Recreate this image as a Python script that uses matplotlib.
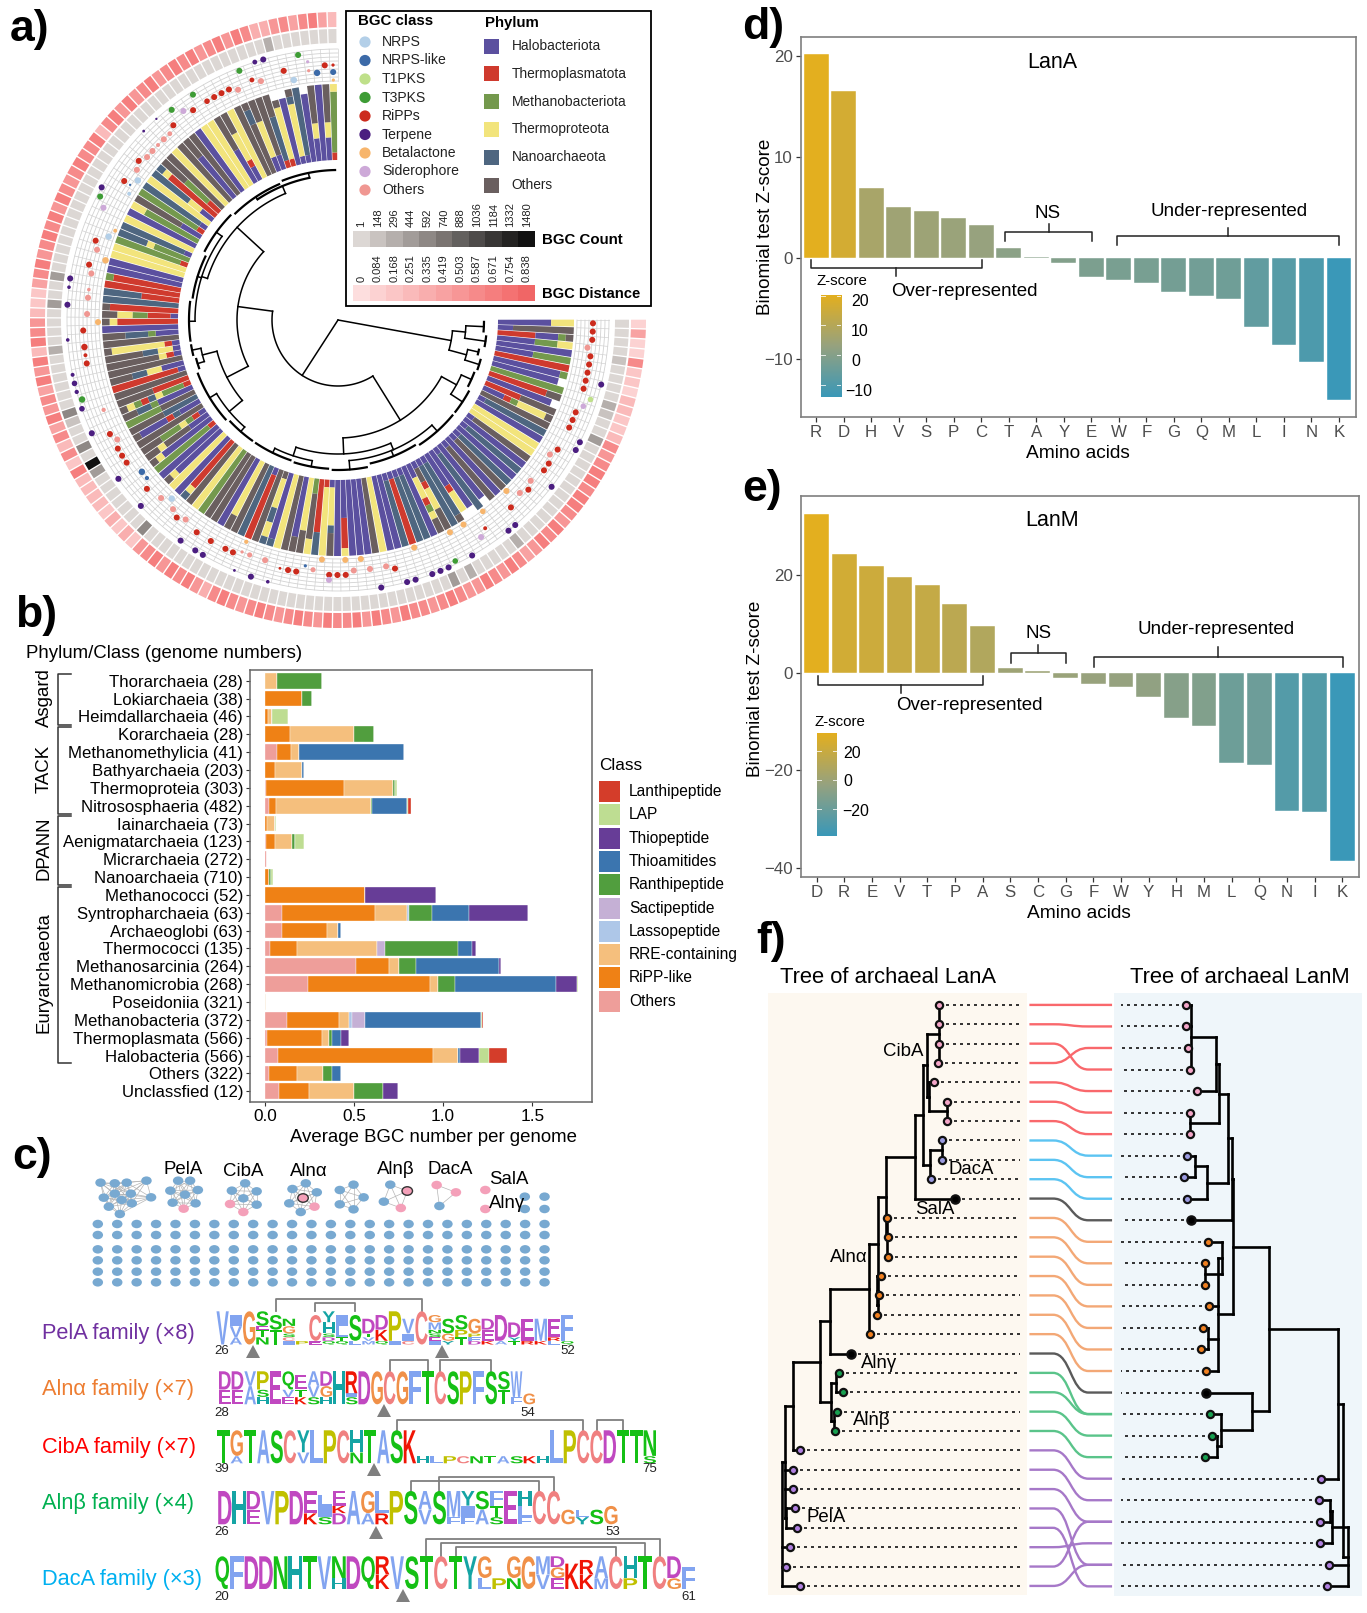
import itertools
import numpy as np
import matplotlib
matplotlib.use('Agg')
import matplotlib.pyplot as plt
from matplotlib.colors import LinearSegmentedColormap
from matplotlib.patches import Circle, Ellipse, Polygon, Rectangle, PathPatch
from matplotlib.path import Path
from matplotlib.patheffects import AbstractPathEffect
from matplotlib.transforms import Affine2D

plt.rcParams['font.family'] = ['Liberation Sans', 'DejaVu Sans']

# ---------- panel a data ----------
# one string per genome, inner to outer, one char = a tenth of the bar length
bar_stacks = [
    "HHHHHHHYYY", "HHOOOOOOOO", "TTTTTHHHMO", "HHHHHMMMYY", "HHHHHHHHHH", "HHHHHMMMMM", "TTTTTTTTTT", "HHHHHHHHHM", "HHHHHHHHH", "MMMMMMMMMM",
    "TTTTTTTTOO", "HHHHHHHHH", "TTTTTOOOOO", "HHHTMYYYYO", "OOOOOOOOOO", "HNNNNNNNNN", "HHHHHHHHHH", "YYYYYYYYYY", "YYYYYYYYYY", "HOOOOOOOOO",
    "HHHHHHHHHH", "HNNNNNNNNN", "HHHHHHHHHH", "HNNNNNNNNN", "HOOOOOOOOO", "HHHHHHHHHH", "HOOOOOOOOO", "HHHHHHHHH", "HNNNNNNNNN", "HHHHHHHHH",
    "HHHHHTYYY", "HNNNNNNNNO", "HNNNNNNNNN", "HOOTYYYOOO", "HHYYYTMYOO", "HHHHHHHHHH", "HNNNNNNNNN", "HNNNNNNNNN", "HTTTTTTTTT", "HNNNNNNNNN",
    "HHHHHHHHHH", "HHHHHHHHHH", "YYYYYYYYYY", "OOOOOOOOOO", "HHHHHHHHHH", "HHHHHHHHHH", "HHHHHHHHHH", "HHHHHTTTTY", "HHHHHHHHHH", "HYYYYYNOOO",
    "TYYYYYYYYY", "TTTTTTTNNN", "MMOOOOOOYY", "YYYYYYYOOO", "HHHHHHHHOO", "OOOOOOOOOO", "YYYYYYYYYY", "HHHHHHHHHN", "OYYYYNNYYN", "OOOOOOOOOO",
    "HTTTTTTTTT", "NNNNNNNNNN", "OOOOOOOOOO", "YYYYYYYYOO", "HHHHHHHHHH", "OOOOOOOOOO", "OOOOOOOOOO", "MMMMMMMMMM", "YYYYYYYYYY", "OOOOOOOOOO",
    "TTTTTTTTYN", "HHHHHHHHHH", "YYYYYYYYYY", "HHHHHHHHYO", "HHHHHHHHHH", "TMMMMMMMMM", "HHHHHHHHYO", "HHHOOOOYOO", "HTMYMMMOOO", "OOOOOOOOOO",
    "HHHNTHHHHO", "NNNNNOOOOO", "OOOOOMMMMM", "HHHHHMNNOO", "TMMMYNTMYO", "TTTTTOOOOO", "OOOOOOOOOO", "HTTTTTTTTT", "HHHYYNNOOO", "OOOOOOOOOO",
    "HTYOOOOOOO", "HYYNNOOOOO", "HTYYYYYYYO", "OOOOOOOOOO", "HHHMNNNOOO", "HHHHHHHHHH", "TTTTTTTTYO", "HTTTMMYYOO", "TTTTTTTTTO", "NNNNNNNNNN",
    "TTTTTNNNNN", "TTTTTTTTTT", "TTTTTTTTTM", "HHHHHHHHHH", "HHHHHHHHHH", "YYYYYYYYYY", "YYYYYYYYYY", "TMMMMMMMMM", "MMMMMYNNNN", "HNNNNNNNNN",
    "YYYYYYYYYY", "HHHHHHHHHH", "MMMMMMMMYY", "HHHOOOOOOO", "TMMMMMMMMM", "HNNNNNNNNN", "YYYYYYYYYY", "HHYYNNNNNN", "TTTTTTTTYN", "TTMMMMOOOO",
    "OOOOOOOOOO", "YYYYYYYYYY", "OOOOOOOOOO", "HHHHHHHOOO", "OOOOOOOOOO", "HHHHHHHHHH", "YYYYYYYYYY", "YYYYYYYYYY", "HHHHHOOOOO", "HHTYYYYOOO",
    "YYYYYYYYYY", "OOOOOOOOOO", "OOOOOOONNO", "HHYYYYYOOO", "HHOOOOOOOO", "TNNNNNNOOO", "TYYYYYYYO", "HHHHHHHHH", "HYYYYYYYNO", "HNNNNNNNNN",
    "HHHHHHHHH", "HHHYYOOOOO", "HHHHHHHHHH", "HHHYYOOOOO", "TMMMMMMMMY",
]
phylum_names = ['Halobacteriota', 'Thermoplasmatota', 'Methanobacteriota', 'Thermoproteota', 'Nanoarchaeota', 'Others']
phylum_keys = 'HTMYNO'
phylum_colors = ['#5B509F', '#CF3A2E', '#74994D', '#F2E47C', '#4E6680', '#6A5F5F']

count_labels = ['1', '148', '296', '444', '592', '740', '888', '1036', '1184', '1332', '1480']
count_colors = ['#DCD7D4', '#C9C3C0', '#B5AFAC', '#A29C99', '#8E8885', '#7A7471', '#63605E', '#4E4B4A', '#383635', '#242322', '#111111']
dist_labels = ['0', '0.084', '0.168', '0.251', '0.335', '0.419', '0.503', '0.587', '0.671', '0.754', '0.838']
dist_colors = ['#FDDEDE', '#FCD2D2', '#FBC6C6', '#FABABA', '#F9AEAE', '#F8A2A2', '#F79696', '#F68A8A', '#F57E7E', '#F47272', '#F06666']
count_dark = {4: 1, 9: 2, 10: 1, 13: 3, 27: 2, 33: 2, 35: 3, 71: 4, 79: 3, 80: 10, 82: 4, 85: 1, 86: 4, 93: 2, 98: 3, 101: 3, 137: 2}
dist_levels = ("1511722133" "2237678878" "8768786578" "6786678767" "78678687"
               "7867876787" "6787468786" "8762424233" "3382737586" "75868387"
               "6322578678" "7868767877" "8378686786" "7878678687" "446757853")

class_names = ['NRPS', 'NRPS-like', 'T1PKS', 'T3PKS', 'RiPPs', 'Terpene', 'Betalactone', 'Siderophore', 'Others']
class_colors = ['#B3CFE8', '#3C6AA8', '#BFE08A', '#3E9C35', '#CC2B1D', '#4B1E80', '#F7B56C', '#CDA9D8', '#F09792']
# (sector, dot area)
nrps_dots = [(71, 16), (115, 16), (113, 6), (107, 16), (139, 16)]
nrpslike_dots = [(76, 16), (75, 7), (52, 4), (114, 2), (142, 16), (144, 14)]
t1pks_dots = [(9, 12)]
t3pks_dots = [(34, 12), (87, 16), (111, 14), (124, 14), (127, 14), (133, 14), (140, 14)]
ripps_dots = [(0, 14), (1, 14), (2, 14), (4, 14), (5, 14), (6, 14), (7, 14), (8, 14), (11, 14), (12, 14), (13, 14), (16, 14),
              (18, 14), (19, 14), (22, 14), (25, 14), (29, 6), (41, 14), (47, 14), (48, 14), (49, 14), (53, 14), (54, 14), (55, 3),
              (61, 14), (62, 14), (64, 14), (66, 14), (69, 14), (74, 14), (78, 14), (79, 14), (80, 14), (82, 14), (91, 14), (92, 6),
              (93, 16), (95, 14), (103, 14), (106, 14), (114, 14), (117, 14), (123, 14), (126, 14), (128, 12), (129, 14), (130, 14),
              (131, 14), (134, 9), (138, 14), (143, 14), (144, 4)]
terpene_dots = [(7, 14), (14, 14), (15, 14), (20, 14), (26, 14), (27, 14), (32, 14), (35, 14), (36, 14), (37, 14), (39, 14),
                (40, 14), (43, 14), (56, 5), (58, 14), (60, 3), (64, 14), (65, 14), (67, 14), (73, 14), (77, 14), (83, 14), (86, 12),
                (88, 7), (89, 12), (90, 6), (94, 5), (98, 14), (100, 5), (101, 14), (112, 14), (120, 3), (122, 2), (135, 9), (136, 14)]
beta_dots = [(24, 14), (28, 12), (31, 14), (33, 14), (38, 14), (45, 14), (47, 14), (50, 14), (60, 7), (96, 14), (104, 16), (108, 6), (144, 4)]
sidero_dots = [(10, 12), (30, 14), (49, 14), (110, 14), (125, 14), (141, 4)]
others_dots = [(3, 14), (17, 14), (21, 14), (23, 14), (42, 14), (44, 14), (46, 14), (51, 10), (57, 14), (59, 10), (60, 4), (68, 14), (70, 14),
               (72, 14), (81, 14), (85, 7), (97, 14), (99, 14), (100, 5), (102, 14), (105, 14), (116, 14), (118, 14), (119, 14), (120, 6),
               (121, 14), (122, 9), (132, 14), (135, 14), (141, 4)]
class_rows = {'Betalactone': 240, 'NRPS': 244, 'NRPS-like': 248, 'Others': 251, 'RiPPs': 255, 'Siderophore': 260, 'T1PKS': 264, 'T3PKS': 268, 'Terpene': 271}


def comb(r, lo, hi):
    return (r, list(range(lo, hi + 1)))


# (radius, children); an int child is a tip
a_tree = (0, [
    (115, [(128, [comb(146, 0, 2), comb(149, 3, 5)]), (133, [comb(144, 6, 7), comb(148, 8, 10)])]),
    (66, [
        (118, [(135, [comb(146, 11, 14), comb(149, 15, 20)]),
               (134, [(141, [comb(149, 21, 30), comb(147, 31, 41), comb(150, 42, 49)]), (143, [comb(149, 50, 57), comb(148, 58, 66)])])]),
        (101, [(125, [(142, [comb(148, 67, 73), comb(150, 74, 85)]), (140, [comb(147, 86, 88), comb(149, 89, 91)])]),
               (137, [(143, [comb(149, 92, 100), comb(147, 101, 110), comb(150, 111, 120)]), (145, [comb(148, 121, 132), comb(150, 133, 144)])])]),
    ]),
])

# ---------- panel b data ----------
lineages = ['Thorarchaeia (28)', 'Lokiarchaeia (38)', 'Heimdallarchaeia (46)', 'Korarchaeia (28)', 'Methanomethylicia (41)',
            'Bathyarchaeia (203)', 'Thermoproteia (303)', 'Nitrososphaeria (482)', 'Iainarchaeia (73)', 'Aenigmatarchaeia (123)',
            'Micrarchaeia (272)', 'Nanoarchaeia (710)', 'Methanococci (52)', 'Syntropharchaeia (63)', 'Archaeoglobi (63)',
            'Thermococci (135)', 'Methanosarcinia (264)', 'Methanomicrobia (268)', 'Poseidoniia (321)', 'Methanobacteria (372)',
            'Thermoplasmata (566)', 'Halobacteria (566)', 'Others (322)', 'Unclassfied (12)']
ripp_classes = ['Others', 'RiPP-like', 'RRE-containing', 'Lassopeptide', 'Sactipeptide', 'Ranthipeptide', 'Thioamitides', 'Thiopeptide', 'LAP', 'Lanthipeptide']
ripp_colors = ['#EE9E9A', '#EF8115', '#F5BF7D', '#AEC7E8', '#C5B0D5', '#519E3E', '#3B75AF', '#673D97', '#BEDD92', '#D43D2A']
others_b = [0, 0, 0, 0, .07, 0, .005, .025, 0, .005, .01, 0, 0, .095, .095, .03, .51, .245, 0, .125, .012, .075, .025, .08]
ripplike = [0, .21, .02, .14, .075, .055, .44, .04, .015, .055, .005, .025, .56, .525, .255, .15, .185, .68, 0, .29, .308, .87, .155, .17]
rre = [.07, 0, .02, .36, .045, .155, .275, .53, .045, .095, 0, 0, 0, .175, .06, .45, .055, .045, .005, .055, .04, .14, .145, .25]
lasso = [0, 0, 0, 0, 0, 0, 0, 0, 0, 0, 0, 0, 0, .015, 0, 0, 0, 0, 0, .02, 0, 0, 0, 0]
sacti = [0, 0, 0, 0, 0, 0, 0, 0, 0, 0, 0, 0, 0, 0, 0, .045, 0, 0, 0, .07, 0, 0, 0, 0]
ranthi = [.25, .055, 0, .11, 0, 0, .01, .005, 0, .015, 0, .01, 0, .125, 0, .41, .1, .095, 0, 0, .015, 0, .05, .165]
thioam = [0, 0, 0, 0, .59, .01, 0, .2, 0, 0, 0, 0, 0, .21, .02, .075, .465, .57, 0, .65, .055, .01, .05, 0]
thiopep = [0, 0, 0, 0, 0, 0, 0, 0, 0, 0, 0, 0, .4, .33, 0, .025, .01, .115, 0, .005, .04, .105, .005, .08]
lap = [0, 0, .09, 0, 0, 0, .01, .005, .005, .05, 0, .01, 0, 0, 0, 0, 0, .005, 0, .005, 0, .055, 0, 0]
lanthi = [0, 0, 0, 0, 0, 0, 0, .015, 0, 0, 0, 0, 0, 0, 0, 0, 0, 0, 0, .005, 0, .105, 0, 0]
ripp_values = [others_b, ripplike, rre, lasso, sacti, ranthi, thioam, thiopep, lap, lanthi]
ripp_legend = ['Lanthipeptide', 'LAP', 'Thiopeptide', 'Thioamitides', 'Ranthipeptide', 'Sactipeptide', 'Lassopeptide', 'RRE-containing', 'RiPP-like', 'Others']

# ---------- panels d, e data ----------
lana_aa = list('RDHVSPCTAYEWFGQMLINK')
lana_z = [20.2, 16.6, 7.0, 5.1, 4.7, 4.0, 3.3, 1.05, 0.15, -0.5, -1.8, -2.15, -2.4, -3.3, -3.7, -4.0, -6.75, -8.6, -10.3, -14.0]
lanm_aa = list('DREVTPASCGFWYHMLQNIK')
lanm_z = [32.7, 24.4, 21.9, 19.7, 18.1, 14.2, 9.7, 0.9, 0.35, -1.1, -2.2, -2.9, -4.9, -9.3, -11.0, -18.6, -19.0, -28.3, -28.6, -38.6]

# ---------- panel c data ----------
# letter + height in ninths, stack listed top to bottom
logo_pela = ["V9", "I3V3A2", "G9", "S4E1T2N2", "S4T4", "N2G2S1C1I1", "P1", "C7E1", "Y3H3S1D1Q1", "I3L3T1Q1", "S7L1", "D4T1V1M1", "D4K3Q1", "P8I1",
             "V4I2C1", "C9", "G2M2N1S1E1I1", "S4G2Y1", "S4P2T2", "G4P1F1D1", "D3E3K1", "D7A1", "D4Y1T1", "E6R1", "M6K1", "E5R1L1", "F7Q1"]
logo_alna = ["D5E4", "D5E4", "V4A5", "P5S2H2", "E9", "Q5V2E2", "E4T2K2", "A4V3S2", "D4G3H2", "H9", "R6I1S2", "D9", "G9", "C9", "G9", "F9", "T9",
             "C9", "S9", "P9", "F9", "S9", "S5T4", "W7F2", "G3"]
logo_ciba = ["T9", "G7A2", "T9", "A9", "S9", "C9", "Y6V3", "L9", "P9", "C9", "H6N3", "T9", "A9", "S9", "K9", "H2", "L2", "P2", "C2", "N2", "T2",
             "A2", "S2", "K2", "H2", "L9", "P9", "C9", "C9", "D9", "T9", "T9", "N7S2"]
logo_alnb = ["D9", "H9", "D5E4", "V9", "P9", "D9", "E6K3", "L3I3S2", "E4K2D3", "A9", "G6A3", "L6R3", "P9", "S9", "A5V4", "S9", "M7F2", "Y4I3F2",
             "S5A4", "F4T3S2", "E9", "H4L3F2", "C9", "C9", "G4", "L2Y2", "S4", "G5"]
logo_daca = ["Q9", "F9", "D9", "D9", "N9", "H9", "T9", "V9", "N6H3", "D9", "Q9", "R5K4", "V9", "S9", "T9", "C9", "T9", "Y9", "G6L3", "P3", "G6N3",
             "G9", "M5V4", "D3G3E3", "K7", "R4K4", "A6M3", "C9", "H6P3", "T9", "C9", "D6G3", "F6"]
family_names = ['PelA family (×8)', 'Alnα family (×7)', 'CibA family (×7)', 'Alnβ family (×4)', 'DacA family (×3)']
family_colors = ['#7030A0', '#ED7D31', '#FF0000', '#00B050', '#00B0F0']
residue_colors = {}
for aa_set, col in [('VIALMFW', '#82A4F0'), ('YH', '#15A4A4'), ('G', '#F09048'), ('P', '#C0C000'), ('C', '#F08080'),
                    ('STNQ', '#15C015'), ('DE', '#C048C0'), ('KR', '#F01505')]:
    for aa in aa_set:
        residue_colors[aa] = col

# ---------- panel f data ----------
lana_groups = ['r'] * 7 + ['b'] * 3 + ['k'] + ['o'] * 7 + ['k'] + ['g'] * 4 + ['p'] * 8
lanm_groups = ['r'] * 7 + ['b'] * 3 + ['k'] + ['o'] * 7 + ['k'] + ['g'] * 3 + ['p'] * 6
lana_to_lanm = [0, 1, 3, 2, 4, 5, 6, 7, 8, 9, 10, 11, 12, 13, 14, 15, 16, 17, 18, 19, 19, 20, 21, 22, 23, 24, 26, 27, 25, 24, 26]
lana_tips = [480, 480, 480, 478, 468, 500, 500, 488, 488, 460, 520, 347, 351, 350, 333, 327, 322, 305, 256, 225, 236, 220, 217, 127, 110, 110, 115, 120, 102, 92, 127]
lanm_tips = [1108, 1108, 1113, 1117, 1135, 1118, 1118, 1110, 1102, 1111, 1120, 1163, 1157, 1157, 1167, 1152, 1145, 1159, 1158, 1168, 1173, 1157, 1450, 1446, 1448, 1449, 1470, 1467]
ribbon_colors = {'r': '#F9686C', 'b': '#5CC4F2', 'k': '#5A5A5A', 'o': '#F3A876', 'g': '#5AC48A', 'p': '#A678C8'}
tip_colors = {'r': '#F4A6C8', 'b': '#9B9BE0', 'k': '#000000', 'o': '#F08020', 'g': '#18A050', 'p': '#B080E0'}

lana_cib = (440, [(450, [(480, [0, 1, 2, 3]), (455, [4, (500, [5, 6])])]), (458, [(487, [7, 8]), 9])])
lana_top = (420, [lana_cib, 10])
lana_aln = (303, [(325, [(345, [lana_top, (347, [11, 12, 13])]), (322, [14, (325, [15, 16])])]), 17])
lana_tree = (82, [(90, [(110, [(178, [(204, [lana_aln, 18]), (205, [(218, [19, 20]), (213, [21, 22])])]), 23]), 24, 25, (92, [26, 27])]), 28, 29, 30])

lanm_red = (1192, [(1185, [(1120, [0, 1, 2, 3]), 4]), (1118, [5, 6])])
lanm_up = (1225, [(1215, [lanm_red, (1160, [(1132, [7, 8]), 9])]), 10])
lanm_org = (1190, [(1200, [11, (1157, [12, 13])]), 14, (1165, [15, 16]), 17])
lanm_mid = (1318, [(1228, [lanm_up, lanm_org]), (1275, [18, (1197, [19, (1187, [20, 21])])])])
lanm_tree = (1507, [(1493, [lanm_mid, 22]), (1519, [(1478, [(1473, [23, 24]), 25]), 26, 27])])

# ---------- figure ----------
fig = plt.figure(figsize=(13.67, 16.13), dpi=100)
W, H = 1367.0, 1613.0


def px_axes(x0, y0, x1, y1, **kw):
    return fig.add_axes([x0 / W, 1 - y1 / H, (x1 - x0) / W, (y1 - y0) / H], **kw)


ov = fig.add_axes([0, 0, 1, 1], zorder=5)
ov.set_xlim(0, W)
ov.set_ylim(H, 0)
ov.axis('off')
ov.patch.set_visible(False)

for s, x, y in [('a)', 10, 29), ('b)', 15, 615), ('c)', 12, 1158), ('d)', 742, 27), ('e)', 742, 490), ('f)', 756, 941)]:
    ov.text(x, y, s, fontsize=32, fontweight='bold', ha='left', va='center')

# ---------- a: circular plot ----------
CX, CY, RMAX = 338.0, 320.0, 310.0
pol = px_axes(CX - RMAX, CY - RMAX, CX + RMAX, CY + RMAX, projection='polar', zorder=1)
pol.set_theta_zero_location('E')
pol.set_theta_direction(-1)
n_sec = len(bar_stacks)
step = np.deg2rad(270.0 / n_sec)
sec_theta = (np.arange(n_sec) + 0.4) * step

R_IN, UNIT = 160.0, 7.6
for i, stack in enumerate(bar_stacks):
    pos = 0
    for key, run in itertools.groupby(stack):
        k = len(list(run))
        pol.bar(sec_theta[i], k * UNIT, width=step * 0.9, bottom=R_IN + pos * UNIT, color=phylum_colors[phylum_keys.index(key)], linewidth=0, zorder=3)
        pos += k

arc = np.linspace(0, n_sec * step, 400)
for r in np.arange(239, 273, 4):
    pol.plot(arc, np.full_like(arc, r), color='#D2D2D2', lw=0.6, zorder=1)
for edge in np.arange(n_sec + 1) * step:
    pol.plot([edge, edge], [239, 271], color='#D2D2D2', lw=0.5, zorder=1)

for name, dots in zip(class_names, [nrps_dots, nrpslike_dots, t1pks_dots, t3pks_dots, ripps_dots, terpene_dots, beta_dots, sidero_dots, others_dots]):
    idx = [d[0] for d in dots]
    pol.scatter(sec_theta[idx], np.full(len(idx), class_rows[name]), s=[d[1] * 1.35 for d in dots],
                color=class_colors[class_names.index(name)], linewidths=0, zorder=4)

count_level = [count_dark.get(i, 0) for i in range(n_sec)]
pol.bar(sec_theta, 14, width=step * 0.86, bottom=277, color=[count_colors[v] for v in count_level], linewidth=0)
pol.bar(sec_theta, 15, width=step * 0.86, bottom=293, color=[dist_colors[int(c)] for c in dist_levels], linewidth=0)


def draw_radial_tree(node):
    r, kids = node
    angs = []
    for kid in kids:
        if isinstance(kid, int):
            angs.append(sec_theta[kid])
            continue
        ang = draw_radial_tree(kid)
        pol.plot([ang, ang], [r, kid[0]], color='black', lw=1.1, zorder=2)
        angs.append(ang)
    aa = np.linspace(min(angs), max(angs), 60)
    # the tip combs read as one heavy broken arc
    pol.plot(aa, np.full_like(aa, r), color='black', lw=1.1 if r < 144 else 1.6, zorder=2)
    return (angs[0] + angs[-1]) / 2


draw_radial_tree(a_tree)
pol.set_rlim(0, RMAX)
pol.set_axis_off()
pol.patch.set_visible(False)

# legend box of panel a
ov.add_patch(Rectangle((346, 11), 304.5, 295, fc='white', ec='black', lw=1.3, zorder=1))
ov.text(358, 21, 'BGC class', fontsize=10.8, fontweight='bold', va='center', zorder=2)
ov.text(485, 23, 'Phylum', fontsize=10.8, fontweight='bold', va='center', zorder=2)
for i, (name, col) in enumerate(zip(class_names, class_colors)):
    yy = 42 + i * 18.5
    ov.add_patch(Circle((365, yy), 5.6, fc=col, ec='none', zorder=2))
    ov.text(382, yy, name, fontsize=10.1, va='center', color='#222222', zorder=2)
for i, (name, col) in enumerate(zip(phylum_names, phylum_colors)):
    yy = 46 + i * 27.8
    ov.add_patch(Rectangle((483.5, yy - 7.5), 15, 15, fc=col, ec='none', zorder=2))
    ov.text(511.7, yy, name, fontsize=9.9, va='center', color='#222222', zorder=2)
cw = 182.0 / 11
for i in range(11):
    xx = 353 + i * cw
    ov.add_patch(Rectangle((xx, 230.5), cw, 16.5, fc=count_colors[i], ec='none', zorder=2))
    ov.text(xx + cw / 2, 227, count_labels[i], fontsize=8, rotation=90, ha='center', va='bottom', color='#222222', zorder=2)
    ov.add_patch(Rectangle((xx, 284.5), cw, 16.5, fc=dist_colors[i], ec='none', zorder=2))
    ov.text(xx + cw / 2, 281.5, dist_labels[i], fontsize=8, rotation=90, ha='center', va='bottom', color='#222222', zorder=2)
ov.text(542, 239.5, 'BGC Count', fontsize=10.8, fontweight='bold', va='center', zorder=2)
ov.text(542, 294, 'BGC Distance', fontsize=10.6, fontweight='bold', va='center', zorder=2)

# ---------- b: stacked bars ----------
axb = px_axes(250, 670, 592, 1102)
ypos = np.arange(len(lineages))
left = np.zeros(len(lineages))
for vals, col in zip(ripp_values, ripp_colors):
    axb.barh(ypos, vals, left=left, height=0.88, color=col, edgecolor='white', linewidth=0.25)
    left += np.array(vals)
axb.set_xlim(-0.083, 1.835)
axb.set_ylim(23.6, -0.6)
axb.set_yticks(ypos)
axb.set_yticklabels(lineages, fontsize=12.1, color='black')
axb.set_xticks([0, 0.5, 1.0, 1.5])
axb.set_xticklabels(['0.0', '0.5', '1.0', '1.5'], fontsize=12.4)
axb.tick_params(axis='both', length=3, width=0.8, color='#333333', pad=2)
for sp in axb.spines.values():
    sp.set_color('#666666')
    sp.set_linewidth(1.1)
ov.text(26, 653, 'Phylum/Class (genome numbers)', fontsize=13.4, va='center')
ov.text(433, 1137, 'Average BGC number per genome', fontsize=13.4, ha='center', va='center')
ov.text(599, 765, 'Class', fontsize=12.4, va='center')
for i, name in enumerate(ripp_legend):
    yy = 781 + i * 23.3
    ov.add_patch(Rectangle((599, yy), 21, 21, fc=ripp_colors[ripp_classes.index(name)], ec='none'))
    ov.text(629, yy + 10.5, name, fontsize=11.2, va='center')
for name, y0, y1 in [('Asgard', 674, 725), ('TACK', 727, 814), ('DPANN', 816, 885), ('Euryarchaeota', 887, 1063)]:
    ov.plot([71, 58, 58, 71], [y0, y0, y1, y1], color='#333333', lw=1.1)
    ov.text(44.5, (y0 + y1) / 2 - 2, name, rotation=90, fontsize=13.4, ha='center', va='center')

# ---------- d, e: z-score bars ----------
zcmap = LinearSegmentedColormap.from_list('z', ['#3A98B8', '#96A27F', '#E3AF1F'])


def z_panel(box, aa, z, xlim, ylim, yticks):
    ax = px_axes(*box)
    lo, hi = min(z), max(z)
    ax.bar(np.arange(len(aa)), z, width=0.9, color=[zcmap((v - lo) / (hi - lo)) for v in z], edgecolor='white', linewidth=0.3)
    ax.set_xlim(*xlim)
    ax.set_ylim(*ylim)
    ax.set_xticks(np.arange(len(aa)))
    ax.set_xticklabels(aa, fontsize=12.2, color='#4D4D4D')
    ax.set_yticks(yticks)
    ax.set_yticklabels([str(v).replace('-', '−') for v in yticks], fontsize=12.2, color='#4D4D4D')
    ax.tick_params(axis='both', length=3.5, width=0.9, color='#333333', pad=2.5)
    for sp in ax.spines.values():
        sp.set_color('#7F7F7F')
        sp.set_linewidth(1.2)
    return ax


axd = z_panel((801, 37, 1356, 417), lana_aa, lana_z, (-0.55, 19.62), (-15.7, 21.9), [-10, 0, 10, 20])
axe = z_panel((801, 496, 1359, 877), lanm_aa, lanm_z, (-0.56, 19.6), (-41.9, 36.3), [-40, -20, 0, 20])


def color_key(box, lo, hi, ticks):
    ck = px_axes(*box)
    ck.imshow(np.linspace(1, 0, 200).reshape(-1, 1), cmap=zcmap, aspect='auto', extent=(0, 1, lo, hi), vmin=0, vmax=1)
    ck.set_xlim(0, 1)
    ck.set_ylim(lo, hi)
    for t in ticks:
        ck.plot([0, 0.2], [t, t], color='white', lw=0.7, alpha=0.8)
        ck.plot([0.8, 1], [t, t], color='white', lw=0.7, alpha=0.8)
    ck.axis('off')
    return ck


color_key((821, 295, 841, 397), -14.0, 20.2, [-10, 0, 10, 20])
color_key((817, 733, 837, 836), -38.6, 32.7, [-20, 0, 20])
for x, y, s in [(851, 301, '20'), (851, 331, '10'), (851, 361, '0'), (845, 391, '−10'), (843, 754, '20'), (843, 782, '0'), (842, 811, '−20')]:
    ov.text(x, y, s, fontsize=11.4, va='center')
ov.text(842, 281, 'Z-score', fontsize=10.8, ha='center', va='center')
ov.text(840, 722, 'Z-score', fontsize=10.8, ha='center', va='center')


def brace(x0, x1, y, y_end, xm, y_tip):
    ov.plot([x0, x0, x1, x1], [y_end, y, y, y_end], color='#222222', lw=1.1)
    ov.plot([xm, xm], [y, y_tip], color='#222222', lw=1.1)


for b in [(811, 982, 268, 260, 896, 276), (1005, 1092, 232, 241, 1049, 224), (1117, 1339, 236, 245, 1228, 228),
          (818, 983, 685, 676, 901, 693), (1011, 1066, 653, 663, 1038, 645), (1094, 1343, 657, 667, 1218, 647)]:
    brace(*b)
for x, y, s in [(964, 292, 'Over-represented'), (1048, 214, 'NS'), (1229, 212, 'Under-represented'),
                (969, 706, 'Over-represented'), (1039, 634, 'NS'), (1216, 629, 'Under-represented')]:
    ov.text(x, y, s, fontsize=13.5, ha='center', va='center')
ov.text(1052, 62, 'LanA', fontsize=15.5, ha='center', va='center')
ov.text(1052, 521, 'LanM', fontsize=15.5, ha='center', va='center')
ov.text(1078, 453, 'Amino acids', fontsize=13.8, ha='center', va='center')
ov.text(1079, 914, 'Amino acids', fontsize=13.8, ha='center', va='center')
ov.text(765, 227, 'Binomial test Z-score', fontsize=13.6, rotation=90, ha='center', va='center')
ov.text(755, 689, 'Binomial test Z-score', fontsize=13.6, rotation=90, ha='center', va='center')

# ---------- c: similarity network ----------
node_blue, node_pink = '#78A9D1', '#F4A0B9'


def nx_(v):
    return v / 2.178


def ny_(v):
    return 1150 + v / 3.0


clusters = [
    [(219, 98), (250, 100), (276, 98), (319, 92), (250, 131), (285, 131), (226, 143), (265, 150), (329, 142), (237, 170), (287, 160), (261, 192)],
    [(388, 92), (414, 92), (371, 122), (431, 120), (403, 134), (376, 158), (426, 160), (400, 176, 'p')],
    [(534, 100), (505, 122), (559, 124), (530, 145), (501, 162, 'p'), (559, 164), (530, 186, 'p')],
    [(666, 100), (637, 117), (690, 127), (660, 144, 'd'), (630, 160), (685, 170, 'p'), (655, 186)],
    [(770, 104), (740, 120), (792, 142), (740, 163), (770, 178)],
    [(850, 104), (887, 123, 'd'), (836, 155), (873, 174, 'p')],
    [(951, 105, 'p'), (993, 127, 'p'), (957, 168)],
]
singles = [(1057, 120, 'p'), (1143, 140), (1186, 140), (1057, 177, 'p'), (1143, 177), (1186, 177)]


def node(n):
    kind = n[2] if len(n) > 2 else ''
    ov.add_patch(Ellipse((nx_(n[0]), ny_(n[1])), 10.5, 8.5, fc=node_pink if kind else node_blue,
                         ec='#333333' if kind == 'd' else 'none', lw=1.0, zorder=3))


for cl in clusters:
    for a, b in itertools.combinations(cl, 2):
        if np.hypot(a[0] - b[0], a[1] - b[1]) < 85:
            ov.plot([nx_(a[0]), nx_(b[0])], [ny_(a[1]), ny_(b[1])], color='#B5B5B5', lw=0.5, zorder=2)
    for n in cl:
        node(n)
for n in singles:
    node(n)
for row in [222, 255, 298, 331, 365, 397]:
    for col in np.linspace(213, 1186, 24):
        node((col, row))
for x, y, s in [(183.6, 1169, 'PelA'), (243, 1171, 'CibA'), (308.5, 1171, 'Alnα'), (396, 1170, 'Alnβ'), (450, 1170, 'DacA'), (509, 1180, 'SalA'), (507, 1203, 'Alnγ')]:
    ov.text(x, y, s, fontsize=13.4, ha='center', va='center', zorder=4)


# ---------- c: sequence logos ----------
class FitBox(AbstractPathEffect):
    # stretch a glyph so that it fills a box given in overlay coordinates
    def __init__(self, box):
        super().__init__()
        self.box = box

    def draw_path(self, renderer, gc, tpath, affine, rgbFace=None):
        (x0, y0), (x1, y1) = ov.transData.transform([(self.box[0], self.box[3]), (self.box[2], self.box[1])])
        b = tpath.get_extents(affine)
        fit = Affine2D().translate(-b.x0, -b.y0).scale((x1 - x0) / b.width, (y1 - y0) / b.height).translate(x0, y0)
        renderer.draw_path(gc, tpath, affine + fit, rgbFace)


def draw_logo(stacks, x0, x1, y_top, y_base, first, last, first_x, last_x, num_y, triangles, tri_y, brackets):
    dx = (x1 - x0) / len(stacks)
    full = y_base - y_top
    for i, st in enumerate(stacks):
        y = y_base
        pairs = [(st[k], int(st[k + 1])) for k in range(0, len(st), 2)]
        for aa, h in reversed(pairs):
            hh = full * h / 9.0
            # small base size: FitBox sets the final glyph size
            t = ov.text(x0 + i * dx, y, aa, fontsize=3.5, fontweight='bold', color=residue_colors[aa], va='baseline', ha='left')
            t.set_path_effects([FitBox((x0 + i * dx + 0.5, y - hh + 0.3, x0 + (i + 1) * dx - 0.5, y))])
            y -= hh
    ov.text(first_x, num_y, first, fontsize=9.5, ha='left', va='center', color='#222222')
    ov.text(last_x, num_y, last, fontsize=9.5, ha='left', va='center', color='#222222')
    for tx in triangles:
        ov.add_patch(Polygon([(tx - 7, tri_y + 13), (tx + 7, tri_y + 13), (tx, tri_y)], fc='#7F7F7F', ec='none'))
    for a, b, by in brackets:
        xa, xb = x0 + (a - 0.5) * dx, x0 + (b - 0.5) * dx
        ov.plot([xa, xa, xb, xb], [y_top, by, by, y_top], color='#7F7F7F', lw=1.3)


draw_logo(logo_pela, 216, 574, 1311, 1344.5, '26', '52', 214, 560, 1351, [253, 442], 1345, [(5, 16, 1299), (8, 11, 1303)])
draw_logo(logo_alna, 218.5, 535.5, 1371, 1404.3, '28', '54', 214, 520, 1413, [384], 1404, [(14, 17, 1360), (18, 22, 1360)])
draw_logo(logo_ciba, 216.7, 656.5, 1430, 1463.3, '39', '75', 214, 642, 1469, [374], 1463, [(14, 28, 1420), (29, 31, 1420)])
draw_logo(logo_alnb, 217.7, 618, 1490.7, 1524.3, '26', '53', 214, 605, 1532, [376], 1526, [(14, 23, 1481), (16, 24, 1477)])
draw_logo(logo_daca, 215, 696, 1556, 1589, '20', '61', 214, 681, 1597, [403], 1589, [(15, 31, 1539), (16, 30, 1543), (17, 28, 1547)])
for name, col, yy in zip(family_names, family_colors, [1333, 1390, 1447, 1504, 1579]):
    ov.text(42, yy, name, fontsize=15.7, color=col, va='center')


# ---------- f: tanglegram ----------
def fx(v):
    return 750 + v / 2.541


def fy(v):
    return 930 + v / 2.296


ov.add_patch(Rectangle((fx(47), fy(145)), 259, fy(1527) - fy(145), fc='#FDF8F0', ec='none', zorder=0))
ov.add_patch(Rectangle((fx(925), fy(145)), 248, fy(1530) - fy(145), fc='#EFF6FA', ec='none', zorder=0))
ov.text(779.5, fy(108), 'Tree of archaeal LanA', fontsize=15.8, va='center')
ov.text(1130, fy(108), 'Tree of archaeal LanM', fontsize=15.8, va='center')
lana_y = np.linspace(172, 1506, len(lana_tips))
lanm_y = np.linspace(172, 1507, len(lanm_tips))


def draw_rect_tree(nd, tips, rows):
    xn, kids = nd
    ys = []
    for kid in kids:
        if isinstance(kid, int):
            yk, xk = rows[kid], tips[kid]
        else:
            yk, xk = draw_rect_tree(kid, tips, rows), kid[0]
        ov.plot([fx(xn), fx(xk)], [fy(yk), fy(yk)], color='black', lw=1.9, solid_capstyle='projecting', zorder=2)
        ys.append(yk)
    ov.plot([fx(xn), fx(xn)], [fy(min(ys)), fy(max(ys))], color='black', lw=1.9, solid_capstyle='projecting', zorder=2)
    return (ys[0] + ys[-1]) / 2


draw_rect_tree(lana_tree, lana_tips, lana_y)
draw_rect_tree(lanm_tree, lanm_tips, lanm_y)
for tips, rows, groups, edge in [(lana_tips, lana_y, lana_groups, 685), (lanm_tips, lanm_y, lanm_groups, 942)]:
    for xt, yt, g in zip(tips, rows, groups):
        ov.plot([fx(xt), fx(edge)], [fy(yt), fy(yt)], color='#111111', lw=1.2, linestyle=(0, (1.8, 2.4)), zorder=1)
        ov.plot(fx(xt), fy(yt), 'o', ms=5.2 if g != 'k' else 6.0, mfc=tip_colors[g], mec='#111111', mew=1.6, zorder=3)

for i, j in enumerate(lana_to_lanm):
    y0, y1 = fy(lana_y[i]), fy(lanm_y[j])
    verts = [(fx(710), y0), (fx(770), y0), (fx(815), y0), (fx(815), y1), (fx(860), y1), (fx(920), y1)]
    codes = [Path.MOVETO, Path.LINETO, Path.CURVE4, Path.CURVE4, Path.CURVE4, Path.LINETO]
    ov.add_patch(PathPatch(Path(verts, codes), fc='none', ec=ribbon_colors[lana_groups[i]], lw=1.7, zorder=2))

for x, y, s in [(882.6, 278, 'CibA'), (948.7, 549, 'DacA'), (915, 642, 'SalA'), (830, 752, 'Alnα'), (861, 995, 'Alnγ'), (853, 1127, 'Alnβ'), (806, 1350, 'PelA')]:
    ov.text(x, fy(y), s, fontsize=13.4, va='center', zorder=4)

fig.savefig('out.png', dpi=100)
